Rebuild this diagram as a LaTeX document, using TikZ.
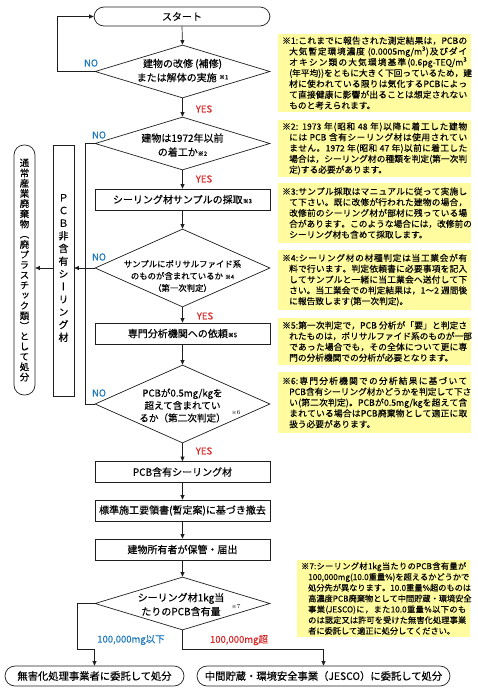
\documentclass[tikz,border=0pt]{standalone}
\usepackage{fontspec}
\usetikzlibrary{shapes.geometric,arrows.meta}
\newfontfamily\jp[FakeBold=0.35]{Noto Sans CJK JP}
\newfontfamily\jpn[FakeBold=0.2]{Noto Sans CJK JP}
\newfontfamily\jpv[RawFeature=+vert,FakeBold=0.35]{Noto Sans CJK JP}
\newXeTeXintercharclass\cjkcls
\newcount\cc
\def\setcls#1#2{\cc=#1\relax\loop\XeTeXcharclass\cc=\cjkcls\advance\cc by 1\relax\ifnum\cc<#2\relax\repeat}
\setcls{"3000}{"3100}
\setcls{"4E00}{"A000}
\setcls{"FF00}{"FFF0}
\XeTeXinterchartoks\cjkcls\cjkcls={\hskip0pt plus 1pt\relax}
\XeTeXinterchartoks\cjkcls 0={\hskip0pt plus 1pt\relax}
\XeTeXinterchartoks 0\cjkcls={\hskip0pt plus 1pt\relax}
\definecolor{noteyellow}{RGB}{255,252,160}
\definecolor{noblue}{RGB}{30,120,190}
\definecolor{yesred}{RGB}{215,40,40}
\definecolor{linegray}{RGB}{30,30,30}
\newcommand\kome[1]{{\fontsize{6}{6}\selectfont ※#1}}
\newlength\nw
\newcommand\Lf[1]{\hbox to \nw{\XeTeXinterchartokenstate=1 #1}}
\newcommand\Li[1]{\hbox to \nw{\XeTeXinterchartokenstate=1 \hspace*{7pt}#1}}
\newcommand\Ll[1]{\hbox to \nw{\hspace*{7pt}#1\hfil}}
\begin{document}
\begin{tikzpicture}[x=1pt,y=-1pt,
  line/.style={draw=linegray, line width=0.7pt},
  arr/.style={draw=linegray, line width=0.7pt, -{Triangle[length=4.5pt,width=4pt]}},
  fbox/.style={draw=linegray, line width=0.7pt, minimum width=175pt, minimum height=21pt, inner sep=0pt, font=\jp\fontsize{10}{12}\selectfont},
  dia/.style={draw=linegray, line width=0.7pt, diamond, minimum width=175pt, inner sep=0pt},
  dtext/.style={align=center, inner sep=0pt},
  term/.style={draw=linegray, line width=0.7pt, rounded corners=10pt, inner sep=0pt, font=\jp\fontsize{10}{12}\selectfont},
  note/.style={fill=noteyellow, inner xsep=4pt, inner ysep=0pt, align=left, font=\jpn\fontsize{8.7}{10.8}\selectfont},
  nolab/.style={text=noblue, font=\jp\fontsize{9.5}{10}\selectfont, inner sep=0pt},
  yeslab/.style={text=yesred, font=\jp\fontsize{9.5}{10}\selectfont, inner sep=0pt},
  vtxt/.style={align=center, inner sep=0pt},
]
\useasboundingbox (0,0) rectangle (478,694);

% ---------- main flow ----------
\node[term, minimum width=176pt, minimum height=19pt] (start) at (182,16.5) {スタート};

\node[dia, minimum height=53pt] (d1) at (182.5,71.5) {};
\node[dtext, font=\jp\fontsize{10}{14}\selectfont] (t1) at (182.5,70.5) {建物の改修 (補修)\\または解体の実施 \raisebox{2pt}{\kome{1}}};

\node[dia, minimum height=53pt] (d2) at (182.5,143.5) {};
\node[dtext, font=\jp\fontsize{10}{14}\selectfont] (t2) at (182.5,145) {建物は1972年以前\\の着工か\kome{2}};

\node[fbox] (b1) at (182.5,199.5) {シーリング材サンプルの採取\kome{3}};

\node[dia, minimum height=78pt] (d3) at (182.5,268) {};
\node[dtext, font=\jp\fontsize{8.4}{12}\selectfont] (t3) at (182.5,276) {サンプルにポリサルファイド系\\のものが含まれているか\ \kome{4}\\（第一次判定）};

\node[fbox] (b2) at (182.5,333.5) {専門分析機関への依頼\kome{5}};

\node[dia, minimum height=78pt] (d4) at (182.5,404) {};
\node[dtext, font=\jp\fontsize{9.6}{12.5}\selectfont] (t4) at (182.5,405.5) {PCBが0.5mg/kgを\\超えて含まれてい\\るか（第二次判定）};
\node[inner sep=0pt] (k6) at (236,413) {\kome{6}};

\node[fbox] (b3) at (182.5,472) {PCB含有シーリング材};
\node[fbox] (b4) at (182.5,510.5) {標準施工要領書(暫定案)に基づき撤去};
\node[fbox] (b5) at (182.5,549.5) {建物所有者が保管・届出};

\node[dia, minimum height=53pt] (d5) at (182.5,603.5) {};
\node[dtext, font=\jp\fontsize{10}{14}\selectfont] (t5) at (181,604.5) {シーリング材1kg当\\たりのPCB含有量};
\node[inner sep=0pt] (k7) at (236,607) {\kome{7}};

\node[term, minimum width=179pt, minimum height=20pt, font=\jp\fontsize{10.3}{12}\selectfont] (out1) at (94.5,676) {無害化処理事業者に委託して処分};
\node[term, minimum width=253pt, minimum height=20pt, font=\jp\fontsize{10.3}{12}\selectfont] (out2) at (323.5,676) {中間貯蔵・環境安全事業（JESCO）に委託して処分};

% ---------- left column ----------
\node[draw=linegray, line width=0.7pt, minimum width=21pt, minimum height=251pt, inner sep=0pt] (pcb) at (63.5,270.5) {};
\node[vtxt, font=\jpv\fontsize{10}{12.7}\selectfont] (pcbt) at (63.5,268) {Ｐ\\Ｃ\\Ｂ\\非\\含\\有\\シ\\ー\\リ\\ン\\グ\\材};

\node[draw=linegray, line width=0.7pt, rounded corners=10pt, minimum width=21pt, minimum height=250pt, inner sep=0pt] (disp) at (24.5,270) {};
\node[vtxt, font=\jpv\fontsize{9.5}{10.2}\selectfont] (dispt) at (24.5,270) {通\\常\\産\\業\\廃\\棄\\物\\（\\廃\\プ\\ラ\\ス\\チ\\ッ\\ク\\類\\）\\と\\し\\て\\処\\分};

% ---------- connectors ----------
\draw[arr] (start.south) -- (d1.north);
\draw[arr] (d1.west) -- ++(-37,0) |- (start.west);
\draw[arr] (d1.south) -- (d2.north);
\draw[arr] (d2.south) -- (b1.north);
\draw[arr] (b1.south) -- (d3.north);
\draw[arr] (d3.south) -- (b2.north);
\draw[arr] (b2.south) -- (d4.north);
\draw[arr] (d4.south) -- (b3.north);
\draw[arr] (b3.south) -- (b4.north);
\draw[arr] (b4.south) -- (b5.north);
\draw[arr] (b5.south) -- (d5.north);

\draw[line] (d2.west) -- ++(-9,0) |- (d4.west);
\draw[arr] (d3.west) -- (d3.west -| pcb.east);
\draw[arr] (pcb.west |- d3.west) -- (disp.east |- d3.west);

\coordinate (j1) at (77,649);
\draw[arr] (d5.west) -| (j1) -| (out1.north);
\draw[arr] (d5.south) -- (d5.south |- j1) -| (out2.north);

% ---------- labels ----------
\node[nolab] (no1) at (91,63) {NO};
\node[yeslab] (yes1) at (204,109) {YES};
\node[nolab] (no2) at (99,135) {NO};
\node[yeslab] (yes2) at (204,179) {YES};
\node[nolab] (no3) at (99,257) {NO};
\node[yeslab] (yes3) at (205,316) {YES};
\node[nolab] (no4) at (99,393) {NO};
\node[yeslab] (yes4) at (204,451) {YES};
\node[nolab] (lab1) at (131,640) {100,000mg以下};
\node[yeslab] (lab2) at (239,640) {100,000mg超};

% ---------- notes ----------
\setlength{\nw}{185pt}
\node[note, anchor=west, minimum width=193pt, minimum height=78pt] (n1) at (278,73) {%
\Lf{※1:これまでに報告された測定結果は，PCBの}\\
\Li{大気暫定環境濃度 (0.0005mg/m\textsuperscript{3})及びダイ}\\
\Li{オキシン類の大気環境基準(0.6pg-TEQ/m\textsuperscript{3}}\\
\Li{(年平均))をともに大きく下回っているため，建}\\
\Li{材に使われている限りは気化するPCBによっ}\\
\Li{て直接健康に影響が出ることは想定されない}\\
\Ll{ものと考えられます。}};

\node[note, anchor=west, minimum width=193pt, minimum height=57pt] (n2) at (278,148.5) {%
\Lf{※2: 1973 年(昭和 48 年)以降に着工した建物}\\
\Li{には PCB 含有シーリング材は使用されてい}\\
\Li{ません。1972 年(昭和 47 年)以前に着工した}\\
\Li{場合は，シーリング材の種類を判定(第一次判}\\
\Ll{定)する必要があります。}};

\node[note, anchor=west, minimum width=193pt, minimum height=60pt] (n3) at (278,213) {%
\Lf{※3:サンプル採取はマニュアルに従って実施し}\\
\Li{て下さい。既に改修が行われた建物の場合，}\\
\Li{改修前のシーリング材が部材に残っている場}\\
\Li{合があります。このような場合には，改修前の}\\
\Ll{シーリング材も含めて採取します。}};

\node[note, anchor=west, minimum width=193pt, minimum height=60pt] (n4) at (278,280) {%
\Lf{※4:シーリング材の材種判定は当工業会が有}\\
\Li{料で行います。判定依頼書に必要事項を記入}\\
\Li{してサンプルと一緒に当工業会へ送付して下}\\
\Li{さい。当工業会での判定結果は，1〜2 週間後}\\
\Ll{に報告致します(第一次判定)。}};

\node[note, anchor=west, minimum width=193pt, minimum height=47pt] (n5) at (278,341.5) {%
\Lf{※5:第一次判定で，PCB 分析が「要」と判定さ}\\
\Li{れたものは，ポリサルファイド系のものが一部}\\
\Li{であった場合でも，その全体について更に専}\\
\Ll{門の分析機関での分析が必要となります。}};

\node[note, anchor=west, minimum width=193pt, minimum height=61pt] (n6) at (278,402.5) {%
\Lf{※6:専門分析機関での分析結果に基づいて}\\
\Li{PCB含有シーリング材かどうかを判定して下さ}\\
\Li{い(第二次判定)。PCBが0.5mg/kgを超えて含}\\
\Li{まれている場合はPCB廃棄物として適正に取}\\
\Ll{扱う必要があります。}};

\setlength{\nw}{165pt}
\node[note, anchor=west, minimum width=173pt, minimum height=77pt, font=\jpn\fontsize{8.2}{10.8}\selectfont] (n7) at (297,598.5) {%
\Lf{※7:シーリング材1kg当たりのPCB含有量が}\\
\Li{100,000mg(10.0重量\%)を超えるかどうかで}\\
\Li{処分先が異なります。10.0重量\%超のものは}\\
\Li{高濃度PCB廃棄物として中間貯蔵・環境安全}\\
\Li{事業(JESCO)に，また10.0重量\%以下のも}\\
\Li{のは認定又は許可を受けた無害化処理事業}\\
\Ll{者に委託して適正に処分してください。}};

\end{tikzpicture}
\end{document}
